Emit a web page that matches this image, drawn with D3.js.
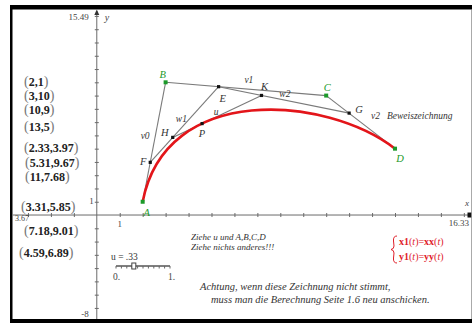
<!DOCTYPE html>
<html>
<head>
<meta charset="utf-8">
<script src="https://cdn.jsdelivr.net/npm/d3@7"></script>
<style>
  body { margin: 0; background: #fff; }
  svg { display: block; }
  text { font-family: "Liberation Serif", "DejaVu Serif", serif; }
</style>
</head>
<body>
<div id="chart"></div>
<script>
// window of the graph
const xMin = -3.67, xMax = 16.33
const yMin = -8, yMax = 15.49

// control points of the curve
const ctrlNames = ["A", "B", "C", "D"]
const ctrlX = [2, 3, 10, 13]
const ctrlY = [1, 10, 9, 5]

// constructed points for u = .33
const uValue = 0.33
const constrNames = ["F", "E", "G", "H", "K", "P"]
const constrX = [2.33, 5.31, 11, 3.31, 7.18, 4.59]
const constrY = [3.97, 9.67, 7.68, 5.85, 9.01, 6.89]

// segments of the construction: from, to, name
const segments = [
  ["A", "B", "v0"], ["B", "C", "v1"], ["C", "D", "v2"],
  ["F", "E", "w1"], ["E", "G", "w2"], ["H", "K", "u"]
]

// order of the coordinate list on the left
const listOrder = ["A", "B", "C", "D", "F", "E", "G", "H", "K", "P"]

// tick values
const xTicks = d3.range(-3, 17)
const yTicks = d3.range(-7, 16)

const width = 472, height = 323

const svg = d3.select("#chart").append("svg")
  .attr("width", width)
  .attr("height", height)

const x = d3.scaleLinear().domain([xMin, xMax]).range([12.6, 471.4])
const y = d3.scaleLinear().domain([yMin, yMax]).range([321.2, 9.45])

// all points by name
const pts = {}
ctrlNames.forEach((n, i) => pts[n] = { x: ctrlX[i], y: ctrlY[i], ctrl: true })
constrNames.forEach((n, i) => pts[n] = { x: constrX[i], y: constrY[i], ctrl: false })

// frame
svg.append("rect").attr("x", 10).attr("y", 5).attr("width", 462).attr("height", 318).attr("fill", "#000")
svg.append("rect").attr("x", 12.5).attr("y", 9.5).attr("width", 459).attr("height", 309.5).attr("fill", "#fff")
svg.append("line").attr("x1", 471.5).attr("x2", 471.5).attr("y1", 9.5).attr("y2", 319)
  .attr("stroke", "#aaa")

svg.append("clipPath").attr("id", "clip")
  .append("rect").attr("x", 12.5).attr("y", 9.5).attr("width", 459).attr("height", 309.5)

const plot = svg.append("g").attr("clip-path", "url(#clip)")

// axes
const axisColor = "#6a6a6a"
plot.append("line")
  .attr("x1", 12.5).attr("x2", 471).attr("y1", y(0)).attr("y2", y(0))
  .attr("stroke", axisColor)
plot.append("line")
  .attr("x1", x(0)).attr("x2", x(0)).attr("y1", y(yMin)).attr("y2", 11)
  .attr("stroke", axisColor)

const xAxis = plot.append("g")
  .attr("transform", `translate(0,${y(0) - 2})`)
  .call(d3.axisBottom(x).tickValues(xTicks.filter(d => d !== 0)).tickSize(4).tickFormat(""))
const yAxis = plot.append("g")
  .attr("transform", `translate(${x(0) + 2},0)`)
  .call(d3.axisLeft(y).tickValues(yTicks.filter(d => d !== 0)).tickSize(4).tickFormat(""))
xAxis.select(".domain").remove()
yAxis.select(".domain").remove()
svg.selectAll(".tick line").attr("stroke", axisColor)

// arrows
plot.append("path")
  .attr("d", `M${x(0) - 2.5},${15} L${x(0)},${9.5} L${x(0) + 2.5},${15} Z`)
  .attr("fill", "#333")
plot.append("rect")
  .attr("x", 467.5).attr("y", y(0) - 2.5).attr("width", 4).attr("height", 5)
  .attr("fill", "#111")

// axis labels
const lab = svg.append("g").attr("fill", "#444").attr("font-size", 9)
lab.append("text").attr("x", x(0) - 8).attr("y", 20).attr("text-anchor", "end").text("15.49")
lab.append("text").attr("x", x(0) + 8).attr("y", 21).attr("font-style", "italic").attr("font-size", 10).text("y")
lab.append("text").attr("x", x(0) - 8).attr("y", y(yMin) - 4).attr("text-anchor", "end").text("-8")
lab.append("text").attr("x", x(0) - 3).attr("y", y(1) + 2).attr("text-anchor", "end").text("1")
lab.append("text").attr("x", x(1)).attr("y", y(0) + 12).attr("text-anchor", "middle").text("1")
lab.append("text").attr("x", 15).attr("y", y(0) + 5.5).attr("font-size", 8).text("3.67")
lab.append("text").attr("x", 469).attr("y", y(0) + 11).attr("text-anchor", "end").text("16.33")
lab.append("text").attr("x", 465).attr("y", y(0) - 9).attr("font-style", "italic").text("x")

// construction segments
plot.selectAll(".seg")
  .data(segments)
  .enter()
  .append("line")
    .attr("class", "seg")
    .attr("x1", d => x(pts[d[0]].x))
    .attr("y1", d => y(pts[d[0]].y))
    .attr("x2", d => x(pts[d[1]].x))
    .attr("y2", d => y(pts[d[1]].y))
    .attr("stroke", "#7a7a7a")
    .attr("stroke-width", 1.1)

// bezier curve from the control points
const bez = d3.path()
bez.moveTo(x(ctrlX[0]), y(ctrlY[0]))
bez.bezierCurveTo(x(ctrlX[1]), y(ctrlY[1]), x(ctrlX[2]), y(ctrlY[2]), x(ctrlX[3]), y(ctrlY[3]))
plot.append("path")
  .attr("d", bez.toString())
  .attr("fill", "none")
  .attr("stroke", "#e3151a")
  .attr("stroke-width", 2.6)

// points
plot.selectAll(".pt")
  .data(Object.keys(pts))
  .enter()
  .append("rect")
    .attr("class", "pt")
    .attr("x", d => x(pts[d].x) - (pts[d].ctrl ? 2 : 1.6))
    .attr("y", d => y(pts[d].y) - (pts[d].ctrl ? 2 : 1.6))
    .attr("width", d => pts[d].ctrl ? 4 : 3.2)
    .attr("height", d => pts[d].ctrl ? 4 : 3.2)
    .attr("fill", d => pts[d].ctrl ? "#1c9a2a" : "#111")

// point and segment names (offsets from the point / segment middle)
const nameOffset = {
  A: [4, 14], B: [-3, -4], C: [1, -5], D: [5, 13],
  E: [4, 15], F: [-7, 3], G: [10, 0], H: [-8, -1], K: [3, -5], P: [0, 13]
}
const segOffset = { v0: [-9, -3], v1: [3, -6], v2: [15, -3], w1: [-3, -3], w2: [1, -3], u: [-1, -1] }

plot.selectAll(".pname")
  .data(Object.keys(pts))
  .enter()
  .append("text")
    .attr("class", "pname")
    .attr("x", d => x(pts[d].x) + nameOffset[d][0])
    .attr("y", d => y(pts[d].y) + nameOffset[d][1])
    .attr("text-anchor", "middle")
    .attr("font-style", "italic")
    .attr("font-size", 10.5)
    .attr("fill", d => pts[d].ctrl ? "#1c9a2a" : "#333")
    .text(d => d)

plot.selectAll(".sname")
  .data(segments)
  .enter()
  .append("text")
    .attr("class", "sname")
    .attr("x", d => (x(pts[d[0]].x) + x(pts[d[1]].x)) / 2 + segOffset[d[2]][0])
    .attr("y", d => (y(pts[d[0]].y) + y(pts[d[1]].y)) / 2 + segOffset[d[2]][1])
    .attr("text-anchor", "middle")
    .attr("font-style", "italic")
    .attr("font-size", 9.5)
    .attr("fill", "#333")
    .text(d => d[2])

plot.append("text")
  .attr("x", 387).attr("y", 119)
  .attr("font-style", "italic").attr("font-size", 9.5).attr("fill", "#333")
  .text("Beweiszeichnung")

// coordinate list on the left
const listY = [81, 95, 109, 126, 147, 162, 176, 206, 230, 252]
const listX = [24, 24, 24, 24, 24, 25, 25, 21, 24, 19]
const list = svg.append("g")
listOrder.forEach((n, i) => {
  const t = list.append("text")
    .attr("x", listX[i]).attr("y", listY[i] + 4.5)
    .attr("font-family", "Liberation Sans, Arial, sans-serif")
    .attr("font-size", 12)
    .attr("fill", "#222")
  t.append("tspan").attr("font-size", 14).attr("fill", "#777").attr("dy", 0.5).text("(")
  t.append("tspan").attr("font-weight", "bold").attr("dy", -0.5).text(pts[n].x + "," + pts[n].y)
  t.append("tspan").attr("font-size", 14).attr("fill", "#777").attr("dy", 0.5).text(")")
})

// slider for u
const s = d3.scaleLinear().domain([0, 1]).range([116, 170])
const slider = svg.append("g")
slider.append("text").attr("x", 111).attr("y", 260).attr("font-size", 9.5).attr("fill", "#333")
  .text("u = .33")
slider.append("line").attr("x1", s(0)).attr("x2", s(1)).attr("y1", 266).attr("y2", 266)
  .attr("stroke", "#555").attr("stroke-width", 1.5)
slider.selectAll(".stick")
  .data(d3.range(0, 1.01, 0.1))
  .enter()
  .append("line")
    .attr("x1", d => s(d)).attr("x2", d => s(d))
    .attr("y1", 266).attr("y2", 268.5)
    .attr("stroke", "#666")
slider.append("rect")
  .attr("x", s(uValue) - 2).attr("y", 263).attr("width", 4).attr("height", 6)
  .attr("fill", "#fff").attr("stroke", "#444")
slider.append("text").attr("x", s(0) - 3).attr("y", 280).attr("font-size", 9.5).attr("fill", "#444").text("0.")
slider.append("text").attr("x", s(1) - 2).attr("y", 280).attr("font-size", 9.5).attr("fill", "#444").text("1.")

// notes
const note = svg.append("g").attr("font-style", "italic").attr("fill", "#333")
note.append("text").attr("x", 191).attr("y", 240).attr("font-size", 9).text("Ziehe u und A,B,C,D")
note.append("text").attr("x", 191).attr("y", 250).attr("font-size", 9).text("Ziehe nichts anderes!!!")
note.append("text").attr("x", 200).attr("y", 290).attr("font-size", 10.5)
  .text("Achtung, wenn diese Zeichnung nicht stimmt,")
note.append("text").attr("x", 211).attr("y", 303).attr("font-size", 10.5)
  .text("muss man die Berechnung Seite 1.6 neu anschicken.")

// red definition box
const redColor = "#e0202a"
svg.append("path")
  .attr("d", "M397,236 Q393,236 393.5,241 L394,246 Q394,249 391,249.5 Q394,250 394,253 L393.5,258 Q393,263 397,263")
  .attr("fill", "none").attr("stroke", redColor).attr("stroke-width", 1)
const red = svg.append("g").attr("fill", redColor).attr("font-size", 10)
const l1 = red.append("text").attr("x", 399).attr("y", 245)
l1.append("tspan").attr("font-weight", "bold").text("x1")
l1.append("tspan").text("(")
l1.append("tspan").attr("font-style", "italic").text("t")
l1.append("tspan").text(")=")
l1.append("tspan").attr("font-weight", "bold").text("xx")
l1.append("tspan").text("(")
l1.append("tspan").attr("font-style", "italic").text("t")
l1.append("tspan").text(")")
const l2 = red.append("text").attr("x", 399).attr("y", 260)
l2.append("tspan").attr("font-weight", "bold").text("y1")
l2.append("tspan").text("(")
l2.append("tspan").attr("font-style", "italic").text("t")
l2.append("tspan").text(")=")
l2.append("tspan").attr("font-weight", "bold").text("yy")
l2.append("tspan").text("(")
l2.append("tspan").attr("font-style", "italic").text("t")
l2.append("tspan").text(")")
</script>
</body>
</html>
